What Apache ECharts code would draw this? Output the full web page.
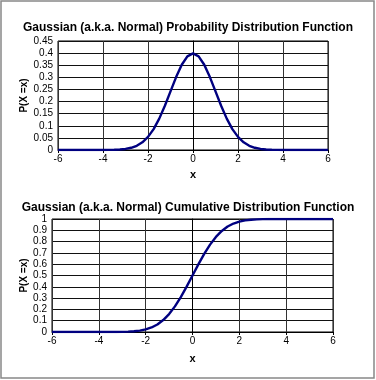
<!DOCTYPE html>
<html>
<head>
<meta charset="utf-8">
<script src="https://cdn.jsdelivr.net/npm/echarts@6/dist/echarts.min.js"></script>
<style>
  html, body { margin: 0; padding: 0; background: #fff; }
  #main { width: 376px; height: 380px; }
</style>
</head>
<body>
<div id="main"></div>
<script>
// x positions (step 0.25)
const xs = [-6, -5.75, -5.5, -5.25, -5, -4.75, -4.5, -4.25, -4, -3.75, -3.5, -3.25, -3, -2.75, -2.5, -2.25, -2, -1.75, -1.5, -1.25, -1, -0.75, -0.5, -0.25,
  0, 0.25, 0.5, 0.75, 1, 1.25, 1.5, 1.75, 2, 2.25, 2.5, 2.75, 3, 3.25, 3.5, 3.75, 4, 4.25, 4.5, 4.75, 5, 5.25, 5.5, 5.75, 6]
// probability density
const pdfVals = [0, 0, 0, 0, 0, 0, 0, 0, 0.0001, 0.0004, 0.0009, 0.002, 0.0044, 0.0091, 0.0175, 0.0317, 0.054, 0.0863, 0.1295, 0.1826, 0.242, 0.3011, 0.3521, 0.3867,
  0.3989, 0.3867, 0.3521, 0.3011, 0.242, 0.1826, 0.1295, 0.0863, 0.054, 0.0317, 0.0175, 0.0091, 0.0044, 0.002, 0.0009, 0.0004, 0.0001, 0, 0, 0, 0, 0, 0, 0, 0]
// cumulative values
const cdfVals = [0, 0, 0, 0, 0, 0, 0, 0, 0, 0.0001, 0.0002, 0.0006, 0.0013, 0.003, 0.0062, 0.0122, 0.0228, 0.0401, 0.0668, 0.1056, 0.1587, 0.2266, 0.3085, 0.4013,
  0.5, 0.5987, 0.6915, 0.7734, 0.8413, 0.8944, 0.9332, 0.9599, 0.9772, 0.9878, 0.9938, 0.997, 0.9987, 0.9994, 0.9998, 0.9999, 1, 1, 1, 1, 1, 1, 1, 1, 1]

const titleTop = 'Gaussian (a.k.a. Normal) Probability Distribution Function'
const titleBottom = 'Gaussian (a.k.a. Normal) Cumulative Distribution Function'
const yName = 'P(X =x)'
const xName = 'x'

const font = 'Liberation Sans, Arial, sans-serif'
const lineColor = '#000080'

function xAxisFor(gridIndex, gap) {
  return {
    type: 'value', gridIndex: gridIndex, min: -6, max: 6, interval: 2,
    name: xName, nameLocation: 'middle', nameGap: gap, nameMoveOverlap: false,
    nameTextStyle: { color: '#000', fontFamily: font, fontWeight: 'bold', fontSize: 11 },
    axisLine: { show: true, lineStyle: { color: '#000', width: 1 } },
    axisTick: { show: true, length: 3, lineStyle: { color: '#000' } },
    axisLabel: { color: '#000', fontFamily: font, fontSize: 10, margin: 4 },
    splitLine: { show: true, lineStyle: { color: '#333', width: 1 } }
  }
}

function yAxisFor(gridIndex, max, interval, gap) {
  return {
    type: 'value', gridIndex: gridIndex, min: 0, max: max, interval: interval,
    name: yName, nameLocation: 'middle', nameGap: gap, nameMoveOverlap: false,
    nameTextStyle: { color: '#000', fontFamily: font, fontWeight: 'bold', fontSize: 10 },
    axisLine: { show: true, lineStyle: { color: '#000', width: 1 } },
    axisTick: { show: true, length: 3, lineStyle: { color: '#000' } },
    axisLabel: { color: '#000', fontFamily: font, fontSize: 10, margin: 5 },
    splitLine: { show: true, lineStyle: { color: '#111', width: 1 } }
  }
}

const chart = echarts.init(document.getElementById('main'), null, { renderer: 'canvas' })
chart.setOption({
  animation: false,
  backgroundColor: '#fff',
  title: [
    { text: titleTop, left: 'center', top: 17, textStyle: { fontFamily: font, fontWeight: 'bold', fontSize: 12, color: '#000' } },
    { text: titleBottom, left: 'center', top: 197, textStyle: { fontFamily: font, fontWeight: 'bold', fontSize: 12, color: '#000' } }
  ],
  graphic: [{
    type: 'rect', shape: { x: 1, y: 1, width: 373, height: 377 },
    style: { fill: null, stroke: '#888', lineWidth: 1.5 }, silent: true
  }],
  grid: [
    { left: 58, top: 41, width: 270, height: 109, show: true, borderColor: '#000', borderWidth: 1 },
    { left: 52, top: 219, width: 281, height: 113, show: true, borderColor: '#000', borderWidth: 1 }
  ],
  xAxis: [xAxisFor(0, 19), xAxisFor(1, 21)],
  yAxis: [yAxisFor(0, 0.45, 0.05, 29), yAxisFor(1, 1, 0.1, 23)],
  series: [
    {
      type: 'line', xAxisIndex: 0, yAxisIndex: 0, showSymbol: false,
      lineStyle: { color: lineColor, width: 2.4 },
      data: xs.map((x, i) => [x, pdfVals[i]])
    },
    {
      type: 'line', xAxisIndex: 1, yAxisIndex: 1, showSymbol: false,
      lineStyle: { color: lineColor, width: 2.4 },
      data: xs.map((x, i) => [x, cdfVals[i]])
    }
  ]
})
</script>
</body>
</html>
